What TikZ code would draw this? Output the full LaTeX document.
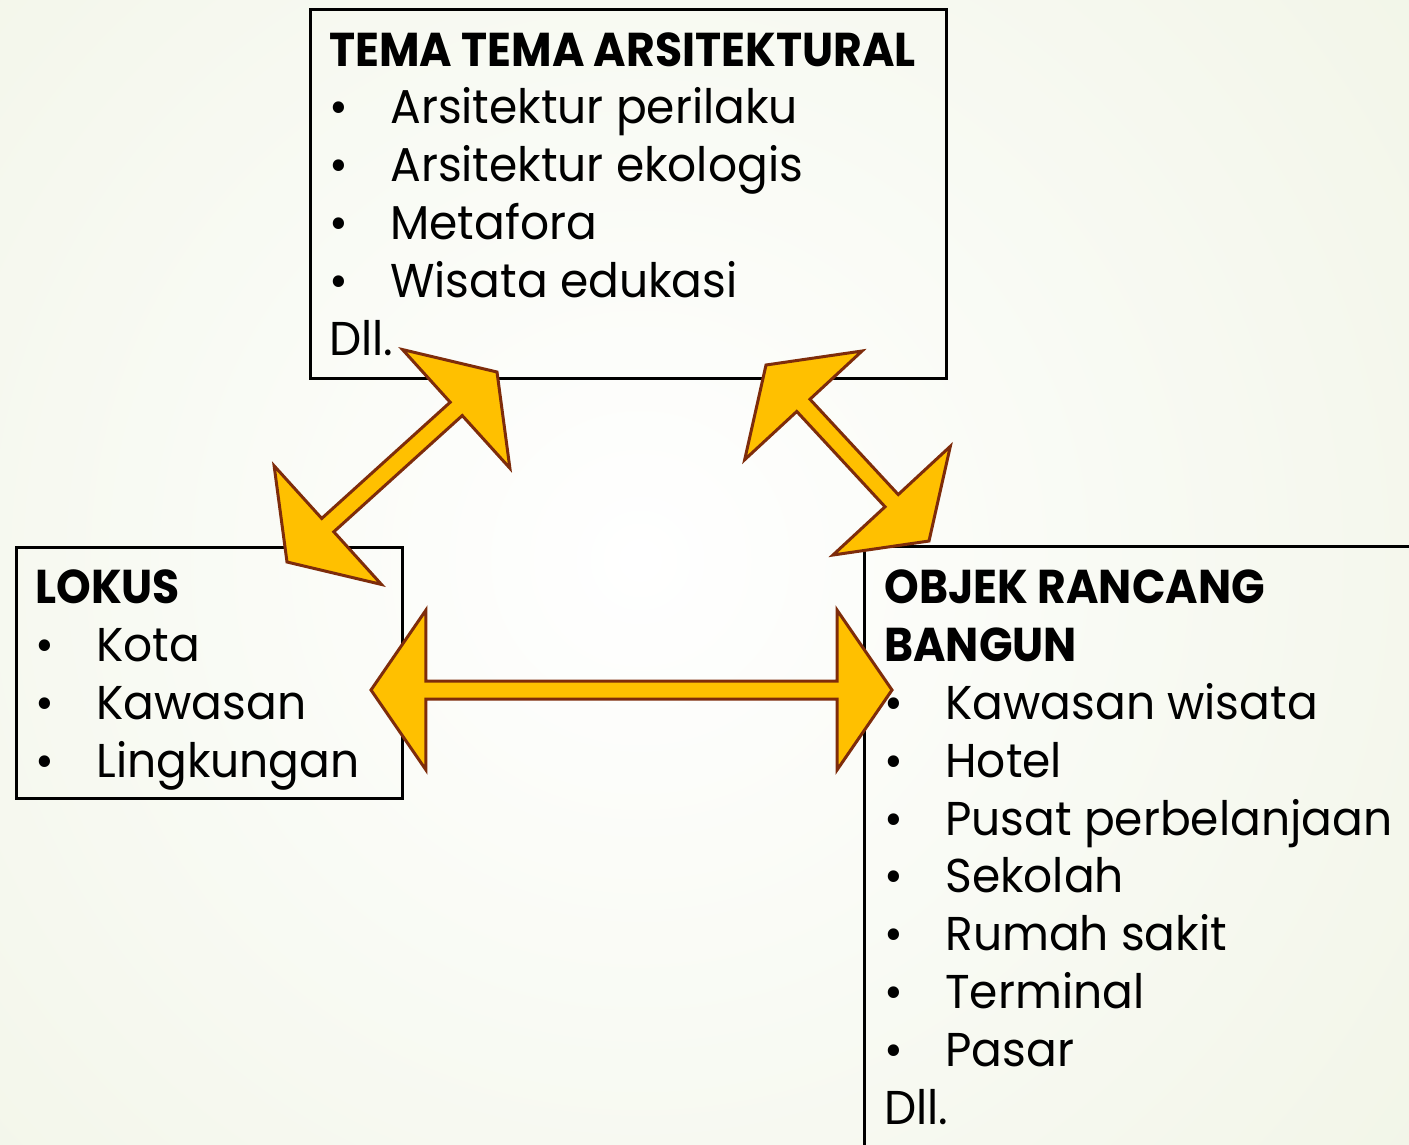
\documentclass[tikz,border=0pt]{standalone}
\usepackage{fontspec}
\setmainfont[FakeStretch=0.96, BoldFeatures={FakeStretch=0.93}]{Poppins}
\usetikzlibrary{calc}

\definecolor{arrowfill}{HTML}{FFC000}
\definecolor{arrowline}{HTML}{7E2C0B}
\definecolor{bggreen}{HTML}{E4EBD0}

\tikzstyle{box}=[draw, line width=0.06cm, anchor=north west, inner sep=0pt]
\tikzstyle{head}=[anchor=base west, inner sep=0pt, font=\fontsize{27}{33}\selectfont\bfseries]
\tikzstyle{item}=[anchor=base west, inner sep=0pt, font=\fontsize{27}{33}\selectfont]
\tikzstyle{barrow}=[fill=arrowfill, draw=arrowline, line width=0.06cm]

\newcommand{\itembul}{\makebox[1.22cm][l]{\textbullet}}

% double block arrow between two coordinates
\newcommand{\blockarrow}[2]{%
  \draw[barrow] (#1)
    -- ($(#1)!1.1cm!(#2)!1.6cm!90:(#2)$)
    -- ($(#1)!1.1cm!(#2)!0.18cm!90:(#2)$)
    -- ($(#2)!1.1cm!(#1)!0.18cm!-90:(#1)$)
    -- ($(#2)!1.1cm!(#1)!1.6cm!-90:(#1)$)
    -- (#2)
    -- ($(#2)!1.1cm!(#1)!1.6cm!90:(#1)$)
    -- ($(#2)!1.1cm!(#1)!0.18cm!90:(#1)$)
    -- ($(#1)!1.1cm!(#2)!0.18cm!-90:(#2)$)
    -- ($(#1)!1.1cm!(#2)!1.6cm!-90:(#2)$)
    -- cycle;}

\begin{document}
\begin{tikzpicture}[x=0.02cm, y=-0.02cm]

        \useasboundingbox (0,0) rectangle (1409,1144);
        \clip (0,0) rectangle (1409,1144);
        \shade[inner color=white, outer color=bggreen] (640,560) circle (40cm);
        %
        \draw (309,8)   node[box, minimum width=12.72cm, minimum height=7.38cm](tema){};
        \draw (15,546)  node[box, minimum width=7.72cm,  minimum height=5.02cm](lokus){};
        \draw (863,545) node[box, minimum width=11.6cm,  minimum height=13cm](objek){};
        %
        \draw (329,66)  node[head](temahead){TEMA TEMA ARSITEKTURAL};
        \draw (329,123) node[item](tema1){\itembul Arsitektur perilaku};
        \draw (329,181) node[item](tema2){\itembul Arsitektur ekologis};
        \draw (329,239) node[item](tema3){\itembul Metafora};
        \draw (329,297) node[item](tema4){\itembul Wisata edukasi};
        \draw (329,355) node[item](temadll){Dll.};
        %
        \draw (35,603)  node[head](lokushead){LOKUS};
        \draw (35,661)  node[item](lokus1){\itembul Kota};
        \draw (35,719)  node[item](lokus2){\itembul Kawasan};
        \draw (35,777)  node[item](lokus3){\itembul Lingkungan};
        %
        \draw (884,603)  node[head](objekhead){OBJEK RANCANG};
        \draw (884,661)  node[head](objekhead2){BANGUN};
        \draw (884,719)  node[item](objek1){\itembul Kawasan wisata};
        \draw (884,777)  node[item](objek2){\itembul Hotel};
        \draw (884,835)  node[item](objek3){\itembul Pusat perbelanjaan};
        \draw (884,892)  node[item](objek4){\itembul Sekolah};
        \draw (884,950)  node[item](objek5){\itembul Rumah sakit};
        \draw (884,1008) node[item](objek6){\itembul Terminal};
        \draw (884,1066) node[item](objek7){\itembul Pasar};
        \draw (884,1124) node[item](objekdll){Dll.};
        %
        \coordinate (lt) at (287,562);
        \coordinate (tl) at (497,372);
        \coordinate (tr) at (766,365);
        \coordinate (rt) at (929,541);
        \coordinate (lr) at (371,690);
        \coordinate (rl) at (892,690);
        \blockarrow{lt}{tl}
        \blockarrow{tr}{rt}
        \blockarrow{lr}{rl}
      \end{tikzpicture}
\end{document}
